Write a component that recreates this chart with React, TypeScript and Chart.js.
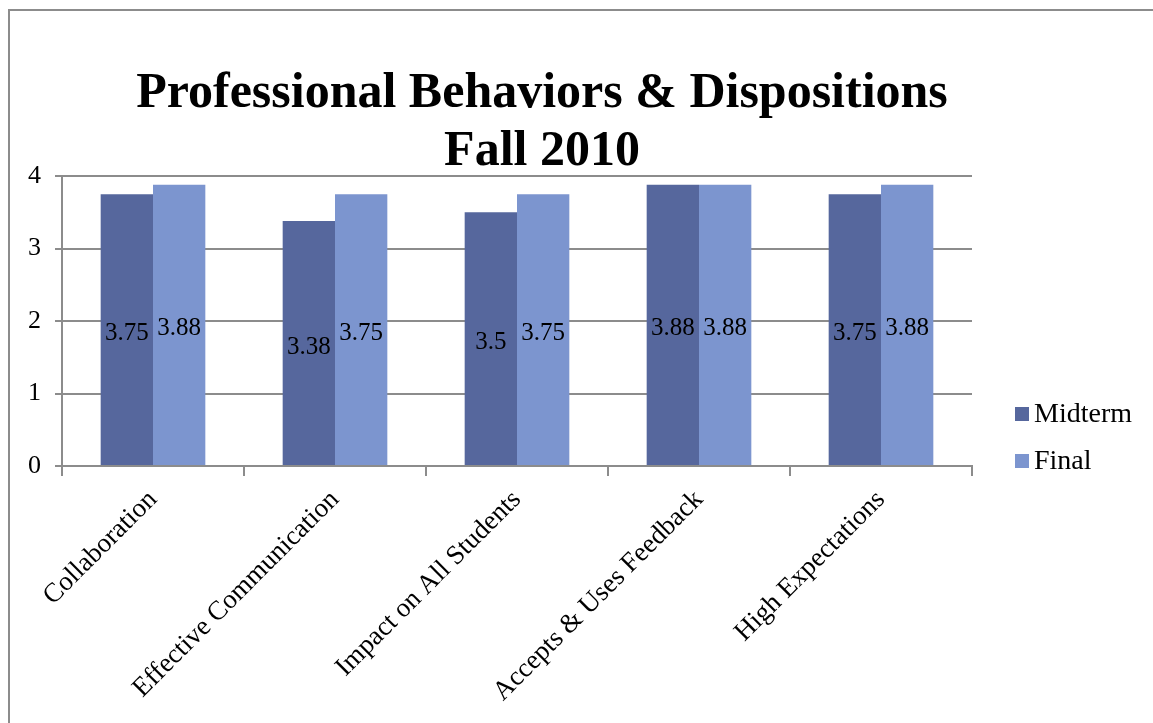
import React, { useEffect, useRef } from "react";
import { Chart, registerables } from "chart.js";

Chart.register(...registerables);

const categories = [
  "Collaboration",
  "Effective Communication",
  "Impact on All Students",
  "Accepts & Uses Feedback",
  "High Expectations",
];
const midtermValues = [3.75, 3.38, 3.5, 3.88, 3.75];
const finalValues = [3.88, 3.75, 3.75, 3.88, 3.88];
const seriesNames = ["Midterm", "Final"];
const seriesColors = ["#56679d", "#7c95cf"];
const titleLines = ["Professional Behaviors & Dispositions", "Fall 2010"];
const yMin = 0;
const yMax = 4;
const yStep = 1;

const FONT = '"Liberation Serif", "Times New Roman", serif';
const GRID = "#8c8c8c";

const titlePlugin = {
  id: "customTitle",
  afterDraw(chart: any) {
    const { ctx } = chart;
    ctx.save();
    ctx.fillStyle = "#000";
    ctx.font = `bold 50px ${FONT}`;
    ctx.textAlign = "center";
    ctx.textBaseline = "alphabetic";
    ctx.fillText(titleLines[0], 532, 96);
    ctx.fillText(titleLines[1], 532, 154);
    ctx.restore();
  },
};

const valueLabelPlugin = {
  id: "valueLabels",
  afterDatasetsDraw(chart: any) {
    const { ctx } = chart;
    ctx.save();
    ctx.fillStyle = "#000";
    ctx.font = `25px ${FONT}`;
    ctx.textAlign = "center";
    ctx.textBaseline = "middle";
    chart.data.datasets.forEach((ds: any, i: number) => {
      const meta = chart.getDatasetMeta(i);
      meta.data.forEach((el: any, j: number) => {
        const v = ds.data[j];
        const y = (el.y + el.base) / 2 + 4;
        ctx.fillText(String(v), el.x, y);
      });
    });
    ctx.restore();
  },
};

const legendPlugin = {
  id: "customLegend",
  afterDraw(chart: any) {
    const { ctx, chartArea } = chart;
    ctx.save();
    const x = chartArea.right + 43;
    const ys = [chartArea.bottom - 52, chartArea.bottom - 5];
    chart.data.datasets.forEach((ds: any, i: number) => {
      const cy = ys[i];
      ctx.fillStyle = ds.backgroundColor;
      ctx.fillRect(x, cy - 7, 14, 14);
      ctx.fillStyle = "#000";
      ctx.font = `28px ${FONT}`;
      ctx.textAlign = "left";
      ctx.textBaseline = "middle";
      ctx.fillText(ds.label, x + 19, cy + 1);
    });
    ctx.restore();
  },
};

export default function App() {
  const canvasRef = useRef<HTMLCanvasElement | null>(null);

  useEffect(() => {
    if (!canvasRef.current) return;
    const chart = new Chart(canvasRef.current, {
      type: "bar",
      data: {
        labels: categories,
        datasets: [
          {
            label: seriesNames[0],
            data: midtermValues,
            backgroundColor: seriesColors[0],
            borderWidth: 0,
          },
          {
            label: seriesNames[1],
            data: finalValues,
            backgroundColor: seriesColors[1],
            borderWidth: 0,
          },
        ],
      },
      options: {
        responsive: false,
        animation: false,
        devicePixelRatio: 1,
        layout: { padding: { left: 0, top: 165, right: 181, bottom: 0 } },
        datasets: {
          bar: { barPercentage: 1, categoryPercentage: 0.575 },
        },
        plugins: {
          legend: { display: false },
          title: { display: false },
          tooltip: { enabled: false },
        },
        scales: {
          x: {
            afterFit: (scale: any) => {
              scale.height = 257;
            },
            grid: {
              offset: true,
              drawOnChartArea: false,
              drawTicks: true,
              tickLength: 10,
              color: GRID,
              lineWidth: 2,
            },
            border: { display: true, color: GRID, width: 2 },
            ticks: {
              minRotation: 45,
              maxRotation: 45,
              autoSkip: false,
              padding: 8,
              color: "#000",
              font: { family: FONT, size: 27 },
            },
          },
          y: {
            min: yMin,
            max: yMax,
            afterFit: (scale: any) => {
              scale.width = 52;
            },
            grid: {
              color: GRID,
              lineWidth: 2,
              drawTicks: true,
              tickLength: 7,
            },
            border: { display: true, color: GRID, width: 2 },
            ticks: {
              stepSize: yStep,
              padding: 14,
              color: "#000",
              font: { family: FONT, size: 26 },
            },
          },
        },
      },
      plugins: [titlePlugin, valueLabelPlugin, legendPlugin],
    });
    return () => chart.destroy();
  }, []);

  return (
    <div
      style={{
        position: "fixed",
        left: 8,
        top: 9,
        width: 1145,
        height: 714,
        overflow: "hidden",
        borderLeft: `2px solid ${GRID}`,
        borderTop: `2px solid ${GRID}`,
        background: "#fff",
        boxSizing: "border-box",
      }}
    >
      <canvas
        ref={canvasRef}
        width={1143}
        height={712}
        style={{ display: "block", width: 1143, height: 712 }}
      />
    </div>
  );
}
